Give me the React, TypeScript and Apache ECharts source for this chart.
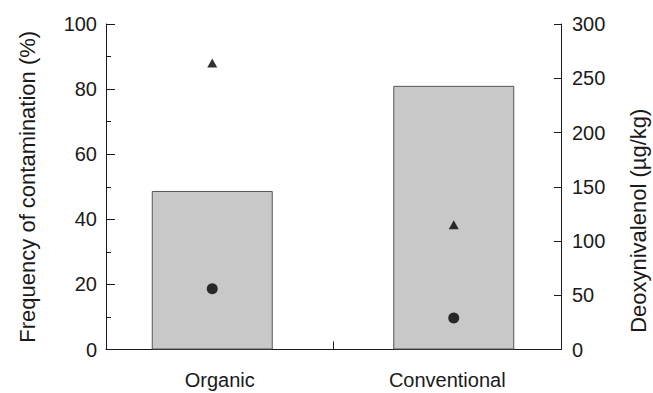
import React, { useEffect, useRef } from "react";
import * as echarts from "echarts";

const categories = ["Organic", "Conventional"];
const frequencyPct = [48.7, 81.0];
const donTriangle = [264, 115];
const donCircle = [56, 29];
const leftTicks = { min: 0, max: 100, interval: 20 };
const rightTicks = { min: 0, max: 300, interval: 50 };

const FONT = "'Liberation Sans', Arial, Helvetica, sans-serif";
const INK = "#1a1a1a";

export default function App() {
  const ref = useRef<HTMLDivElement>(null);
  useEffect(() => {
    if (!ref.current) return;
    const chart = echarts.init(ref.current, undefined, { renderer: "svg" });
    const axisLine = { show: true, lineStyle: { color: INK, width: 1 } };
    chart.setOption({
      animation: false,
      backgroundColor: "#ffffff",
      textStyle: { fontFamily: FONT },
      grid: [
        { left: 106, right: 92, top: 24, bottom: 43.5, containLabel: false, outerBoundsMode: "none" },
        { left: 91.5, right: 78.5, top: 24, bottom: 43.5, containLabel: false, outerBoundsMode: "none" },
      ],
      xAxis: [
        {
          type: "category",
          gridIndex: 0,
          data: categories,
          boundaryGap: true,
          axisLine,
          axisTick: { show: true, inside: true, length: 8, lineStyle: { color: INK } },
          axisLabel: { margin: 20, fontSize: 20, color: INK, fontFamily: FONT },
          splitLine: { show: false },
        },
        { type: "category", gridIndex: 1, data: categories, show: false },
      ],
      yAxis: [
        {
          type: "value",
          gridIndex: 0,
          position: "left",
          min: leftTicks.min,
          max: leftTicks.max,
          interval: leftTicks.interval,
          name: "Frequency of contamination (%)",
          nameLocation: "middle",
          nameGap: 68,
          nameRotate: 90,
          nameTextStyle: { fontSize: 22, color: INK, fontFamily: FONT },
          axisLine,
          axisTick: { show: true, inside: true, length: 9, lineStyle: { color: INK } },
          minorTick: { show: true, splitNumber: 2, length: 5, lineStyle: { color: INK } },
          axisLabel: { margin: 9, fontSize: 20, color: INK, fontFamily: FONT },
          splitLine: { show: false },
        },
        {
          type: "value",
          gridIndex: 0,
          position: "right",
          min: rightTicks.min,
          max: rightTicks.max,
          interval: rightTicks.interval,
          name: "Deoxynivalenol (µg/kg)",
          nameLocation: "middle",
          nameGap: 66,
          nameRotate: 90,
          nameTextStyle: { fontSize: 22, color: INK, fontFamily: FONT, padding: [0, 68, 0, 0] },
          axisLine,
          axisTick: { show: true, inside: true, length: 7, lineStyle: { color: INK } },
          axisLabel: { margin: 11, fontSize: 20, color: INK, fontFamily: FONT },
          splitLine: { show: false },
        },
        { type: "value", gridIndex: 1, min: leftTicks.min, max: leftTicks.max, show: false },
        { type: "value", gridIndex: 1, min: rightTicks.min, max: rightTicks.max, show: false },
      ],
      series: [
        {
          name: "Frequency of contamination",
          type: "bar",
          xAxisIndex: 1,
          yAxisIndex: 2,
          data: frequencyPct,
          barWidth: 121,
          itemStyle: { color: "#c8c8c8", borderColor: "#555555", borderWidth: 1 },
          z: 2,
        },
        {
          name: "DON (triangle)",
          type: "scatter",
          xAxisIndex: 1,
          yAxisIndex: 3,
          data: donTriangle,
          symbol: "triangle",
          symbolSize: [10, 9],
          itemStyle: { color: "#000000" },
          z: 5,
        },
        {
          name: "DON (circle)",
          type: "scatter",
          xAxisIndex: 1,
          yAxisIndex: 3,
          data: donCircle,
          symbol: "circle",
          symbolSize: 11,
          itemStyle: { color: "#000000" },
          z: 5,
        },
      ],
    });
    return () => chart.dispose();
  }, []);
  return (
    <div
      ref={ref}
      style={{ position: "absolute", left: 0, top: 0, width: 653, height: 393 }}
    />
  );
}
